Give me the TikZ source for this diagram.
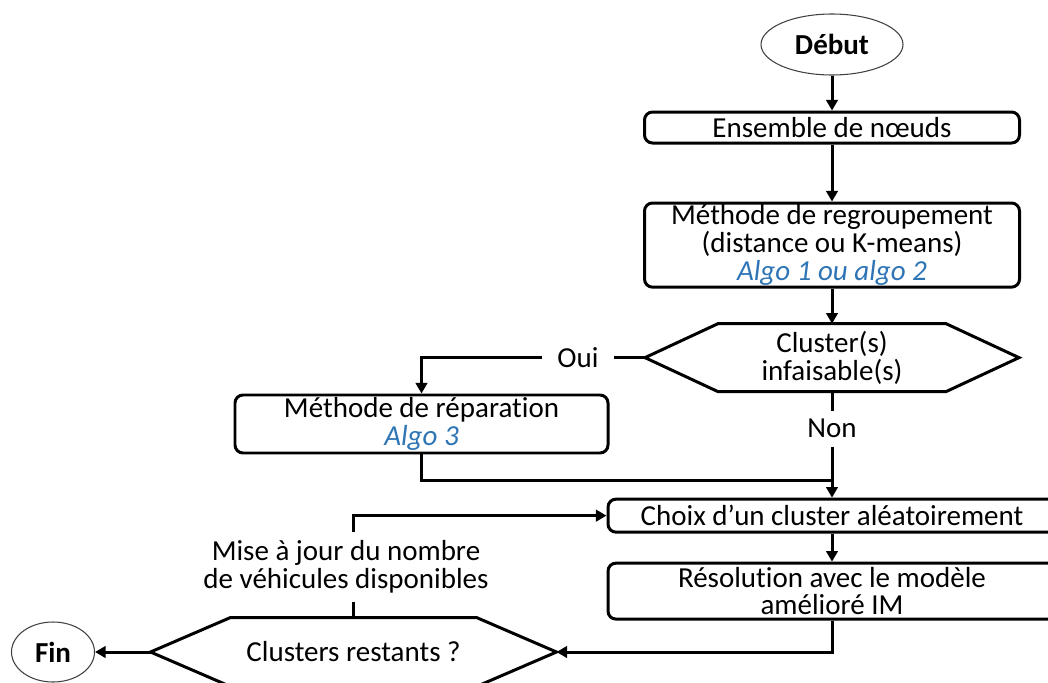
\documentclass[tikz,border=0pt]{standalone}
\usepackage{fontspec}
\setmainfont[Ligatures=NoCommon]{Carlito}
\usepackage{tikz}
\usetikzlibrary{positioning,shapes.geometric,arrows.meta}
\definecolor{algoblue}{RGB}{46,117,182}
\tikzstyle{block} = [draw, rectangle, rounded corners=0.16cm, line width=1.7pt, inner sep=1pt, align=center, minimum width=7.5cm]
\tikzstyle{term} = [draw=black!75, ellipse, line width=0.6pt, inner sep=0pt, font=\bfseries\fontsize{16.5}{15.5}\selectfont]
\tikzstyle{hexa} = [rectangle, inner sep=1pt, align=center]
\tikzstyle{gap} = [fill=white, inner sep=5pt]
\tikzstyle{coord} = [coordinate]
\newcommand{\algo}[1]{{\color{algoblue}\itshape #1}}

\begin{document}
\begin{tikzpicture}[>={Triangle[length=6pt,width=6.5pt]},line width=1.7pt,font=\fontsize{16.5}{15.8}\selectfont]
	\useasboundingbox (0,0) rectangle (20.96,13.64);
	\clip (0,0) rectangle (20.96,13.64);

	% main column
	\node (debut) [term, minimum width=2.84cm, minimum height=1.22cm] at (16.64,12.75) {Début};
	\node (ens) [block, below=0.70cm of debut, minimum height=0.62cm] {Ensemble de nœuds};
	\node (regr) [block, below=1.14cm of ens, minimum height=1.66cm] {Méthode de regroupement\\(distance ou K-means)\\\algo{Algo 1 ou algo 2}};
	\node (clus) [hexa, below=0.70cm of regr, minimum width=7.42cm, minimum height=1.3cm] {Cluster(s)\\infaisable(s)};
	\node (choix) [block, below=2.12cm of clus, minimum width=8.96cm, minimum height=0.66cm] {Choix d’un cluster aléatoirement};
	\node (resol) [block, below=0.56cm of choix, minimum width=8.96cm, minimum height=1.12cm] {Résolution avec le modèle\\amélioré IM};

	% left side
	\node (rep) [block, minimum width=7.46cm, minimum height=1.16cm] at (8.43,5.16) {Méthode de réparation\\\algo{Algo 3}};
	\node (rest) [hexa, minimum width=8.06cm, minimum height=1.32cm] at (7.07,0.6) {Clusters restants ?};
	\node (fin) [term, minimum width=1.66cm, minimum height=1.2cm] at (1.06,0.6) {Fin};
	\node (maj) [align=center, inner sep=2pt, minimum height=1.34cm] at (6.92,2.31) {Mise à jour du nombre\\de véhicules disponibles};
	\node (mrg) [coord, below=1.78cm of clus.south] {};

	% hexagons
	\draw (clus.west) -- ([xshift=1.46cm]clus.north west) -- ([xshift=-1.46cm]clus.north east) -- (clus.east)
		-- ([xshift=-1.46cm]clus.south east) -- ([xshift=1.46cm]clus.south west) -- cycle;
	\draw (rest.west) -- ([xshift=1.6cm]rest.north west) -- ([xshift=-1.6cm]rest.north east) -- (rest.east)
		-- ([xshift=-1.6cm]rest.south east) -- ([xshift=1.6cm]rest.south west) -- cycle;

	\draw[->] (debut) -- (ens);
	\draw[->] (ens) -- (regr);
	\draw[->] (regr) -- (clus);
	\draw[->] (clus.west) -| node[gap, pos=0.15, inner xsep=0.3cm] {Oui} (rep.north);
	\draw[->] (clus.south) -- node[gap, pos=0.35] {Non} (choix.north);
	\draw (rep.south) |- (mrg);
	\draw[->] (choix) -- (resol);
	\draw[->] (resol.south) |- (rest.east);
	\draw[->] (rest.west) -- (fin.east);
	\draw (rest.north) -- (rest.north |- maj.south);
	\draw[->] (rest.north |- maj.north) |- (choix.west);
\end{tikzpicture}
\end{document}
